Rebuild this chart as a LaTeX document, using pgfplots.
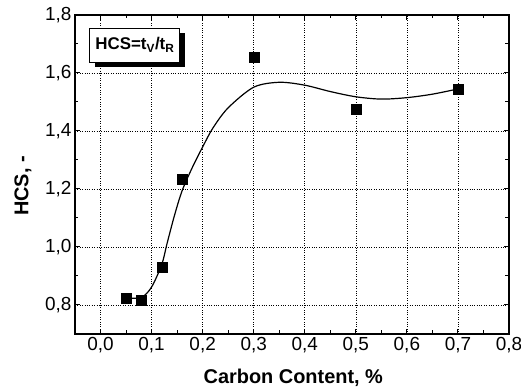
\documentclass[border=0pt]{standalone}
\usepackage{fontspec}
\setmainfont{Liberation Sans}
\usepackage{pgfplots}
\pgfplotsset{compat=1.18}
\usetikzlibrary{shadows}
\begin{document}
\begin{tikzpicture}
\useasboundingbox (-75bp,-58bp) rectangle (446bp,334bp);
\begin{axis}[
  at={(0,0)}, anchor=south west,
  scale only axis, width=434bp, height=319bp,
  xmin=-0.05, xmax=0.8, ymin=0.7, ymax=1.8,
  xtick={0,0.1,0.2,0.3,0.4,0.5,0.6,0.7,0.8},
  ytick={0.8,1.0,1.2,1.4,1.6,1.8},
  minor x tick num=1, minor y tick num=1,
  tick align=inside, major tick length=5bp, minor tick length=3.5bp,
  axis line style={line width=1.3bp},
  every tick/.style={line width=1bp, black},
  grid=major, grid style={dotted, black, line width=0.6bp},
  /pgf/number format/assume math mode=true,
  /pgf/number format/.cd, use comma, fixed, fixed zerofill, precision=1, /pgfplots/.cd,
  ticklabel style={font=\fontsize{19}{21}\selectfont},
  xlabel={\textbf{Carbon Content, \%}},
  ylabel={\textbf{HCS, -}},
  label style={font=\fontsize{20}{23}\selectfont},
  xlabel style={at={(axis description cs:0.503,-0.138)}, anchor=center},
  ylabel style={at={(axis description cs:-0.12,0.464)}, anchor=center},
  clip=false,
]
\addplot[black, line width=1.2bp, smooth, tension=0.5] coordinates {
(0.05,0.824) (0.08,0.826) (0.1,0.862) (0.12,0.94) (0.13,1.01) (0.145,1.11)
(0.16,1.195) (0.18,1.275) (0.2,1.345) (0.22,1.41) (0.25,1.48) (0.3,1.551)
(0.35,1.568) (0.4,1.558) (0.45,1.536) (0.5,1.518) (0.55,1.510) (0.6,1.515)
(0.65,1.527) (0.7,1.545)
};
\addplot[only marks, mark=square*, mark size=5bp, black] coordinates {
(0.05,0.824) (0.08,0.817) (0.12,0.929) (0.16,1.234) (0.3,1.654) (0.5,1.476) (0.7,1.544)
};
\node[draw, line width=0.8bp, fill=white, minimum width=90bp, minimum height=34bp, inner sep=0pt,
  drop shadow={shadow xshift=5bp, shadow yshift=-5bp, fill=black, opacity=1},
  font=\fontsize{17}{19}\selectfont]
  at (rel axis cs:0.138,0.906) {\textbf{HCS=t\textsubscript{V}/t\textsubscript{R}}};
\end{axis}
\end{tikzpicture}
\end{document}
